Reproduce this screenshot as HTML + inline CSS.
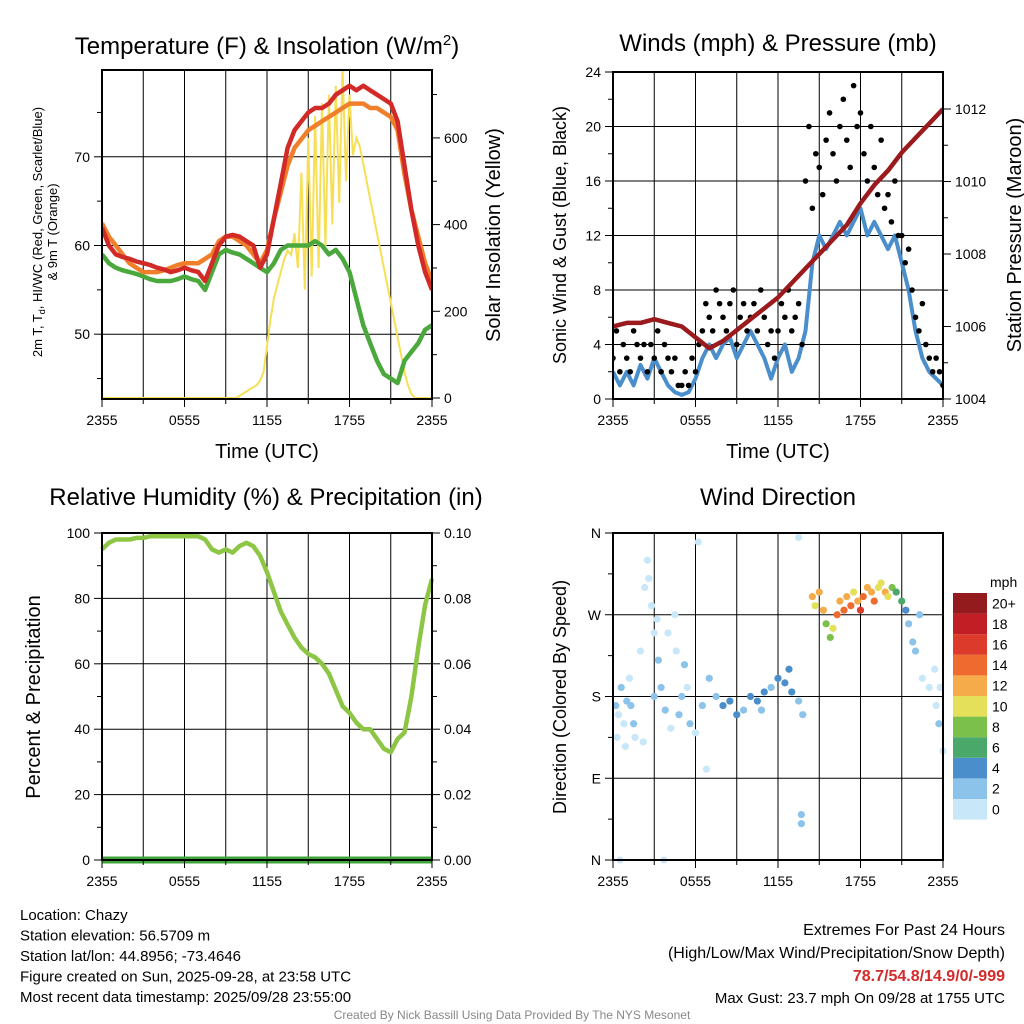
<!DOCTYPE html>
<html><head><meta charset="utf-8"><style>
body{margin:0;background:#fff}
svg{display:block;font-family:"Liberation Sans",sans-serif}
</style></head><body>
<svg id="c" width="1024" height="1024" viewBox="0 0 1024 1024">
<defs>
<clipPath id="clip1"><rect x="102" y="70" width="330" height="329"/></clipPath>
<clipPath id="clip2"><rect x="613" y="72" width="330" height="327"/></clipPath>
</defs>
</svg>
<script>
// ---------- data ----------
const xTickLabels = ["2355","0555","1155","1755","2355"];
// temperatures at half-hour steps (49 values, hours 0..24)
const temp2m = [62,60,59,58.7,58.5,58.2,58,57.8,57.5,57.3,57,57.2,57.5,57.2,57,56,58,60,61,61.2,61,60.5,60,57.5,59,63,67,71,73,74,75,75.5,75.5,76,77,77.5,78,77.5,78,77.5,77,76.5,76,74,69,64,60,57,55];
const temp9m = [62.5,61,60,59,58,57.5,57,57,57,57.2,57.5,57.8,58,58,58,58.5,59,60.5,61,61,60.5,60,59,58,59.5,63,66,69,71,72,73,73.5,74,74.5,75,75.5,76,76,76,75.5,75.5,75,74.5,73,68,64,61,58,56];
const dewpt = [59,58,57.5,57.2,57,56.8,56.5,56.2,56,56,56,56.2,56.5,56.2,56,55,57,59,59.5,59.2,59,58.5,58,57.5,57,58,59.5,60,60,60,60,60.5,60,59,59.5,58.5,57,54,51,49,47,45.5,45,44.5,47,48,49,50.5,51];
// solar at quarter-hour steps (97 values)
const solar = [0,0,0,0,0,0,0,0,0,0,0,0,0,0,0,0,0,0,0,0,0,0,0,0,0,0,0,0,0,0,0,0,0,0,0,0,0,0,0,0,5,10,15,20,25,30,40,60,120,180,230,260,290,320,340,330,380,300,520,250,600,280,650,300,680,350,700,400,720,450,760,500,700,560,600,580,540,500,460,420,380,340,300,260,220,180,140,100,60,30,10,0,0,0,0,0,0];
// winds (half-hour, 49 values) mph
const sonicWind = [2,1,2,1,2.5,1.5,3,2,1,0.5,0.3,0.5,1.5,3,4,3,4,4.5,3,4,5,4,3,1.5,3,4,2,3,5,10,12,11,12,13,12,13,14,12,13,12,11,12,10,8,5,3,2,1.5,1];
// gusts (quarter-hour, 97 values) mph
const gust = [3,5,2,4,3,2,5,4,3,4,2,4,3,5,2,4,3,2,3,1,1,2,1,3,2,4,5,7,6,5,8,7,6,5,7,8,4,6,7,5,6,7,5,8,6,4,5,3,5,7,6,8,5,6,7,4,16,20,14,18,17,15,19,21,18,16,20,22,19,17,23,20,21,18,16,20,17,15,19,14,15,13,16,12,12,10,11,8,6,5,7,4,3,2,3,2,1];
// pressure (hourly, 25 values) mb
const pressure = [1006.0,1006.1,1006.1,1006.2,1006.1,1006.0,1005.7,1005.4,1005.6,1005.9,1006.2,1006.5,1006.8,1007.2,1007.6,1008.0,1008.4,1008.8,1009.4,1009.9,1010.3,1010.8,1011.2,1011.6,1012.0];
// relative humidity (half-hour, 49 values)
const rh = [95,97,98,98,98,98.5,98.5,99,99,99,99,99,99,99,99,98,95,94,95,94,96,97,96,93,88,82,76,72,68,65,63,62,60,57,52,47,45,42,40,40,37,34,33,37,39,50,65,78,86];
const precip = [0,0,0,0,0,0,0,0,0,0,0,0,0,0,0,0,0,0,0,0,0,0,0,0,0];
// wind direction scatter
const dirHours = [0.2,0.4,0.6,0.8,1.0,1.2,1.5,0.5,3.7,2.5,2.6,2.3,3.0,3.3,3.5,3.0,2.0,4.0,4.5,4.8,5.0,5.4,6.2,6.5,7.0,6.8,7.5,8.0,8.5,9.0,9.5,10,10.5,10.8,11,11.5,12,12.5,13,13.5,12.8,13.8,13.7,13.5,13.7,0.3,0.9,1.6,2.2,1.3,3.8,4.2,5.6,6.0,5.2,3.2,2.8,4.6,14.5,14.7,15,15.3,15.5,15.8,16,16.3,16.5,16.8,17,17.3,17.5,17.8,18,18.2,18.5,18.8,19,19.3,19.5,19.8,20,20.3,20.6,21,21.3,21.5,21.8,22,22.5,23,23.5,23.8,23.7,24,23.4,22.3];
const dirDeg = [170,160,190,150,175,200,150,0,0,330,310,300,250,220,190,180,230,250,270,160,180,190,350,170,200,100,180,170,175,160,165,180,175,165,185,190,200,195,185,175,210,160,40,355,50,135,125,135,130,170,165,145,150,140,215,265,280,230,290,280,295,275,260,245,255,270,285,275,290,280,295,285,275,290,300,295,285,300,305,295,290,300,295,285,275,260,240,230,200,190,170,190,150,120,210,270];
const dirSpd = [2,1,3,1,2,1,2,1,0,1,0,1,1,2,2,3,1,1,0,2,2,1,0,2,3,1,3,4,4,4,3,4,4,3,4,3,4,5,4,3,4,2,3,1,2,1,0,1,1,2,2,1,2,0,2,1,1,1,12,10,13,12,9,8,10,14,13,15,12,14,11,13,16,14,12,13,15,11,10,12,10,8,6,7,5,3,2,2,1,1,1,0,2,1,1,2];
const spdLabels = ["0","2","4","6","8","10","12","14","16","18","20+"];
const spdColors = ["#c8e7f8","#8cc3ea","#4a8fcb","#4aa86a","#7cc04c","#e4e05a","#f6ab4a","#ef6a2e","#dc3a2a","#c11e25","#931b1e"];

// ---------- helpers ----------
const svg = document.getElementById('c');
const NS = 'http://www.w3.org/2000/svg';
function mk(tag, attrs, parent){
  const e = document.createElementNS(NS, tag);
  for (const k in attrs) e.setAttribute(k, attrs[k]);
  (parent||svg).appendChild(e);
  return e;
}
function txt(s, x, y, size, anchor, parent, extra){
  const t = mk('text', Object.assign({x:x, y:y, 'font-size':size, 'text-anchor':anchor||'middle', fill:'#000'}, extra||{}), parent);
  t.textContent = s;
  return t;
}
function linPath(vals, step, sx, sy){
  let d = '';
  vals.forEach((v,i)=>{ d += (i?'L':'M') + sx(i*step).toFixed(1) + ',' + sy(v).toFixed(1); });
  return d;
}
function frame(x0,y0,x1,y1,name,hgrid){
  const g = mk('g',{});
  
  
  for (let i=1;i<8;i++){
    const x = x0 + (x1-x0)*i/8;
    mk('line',{x1:x,y1:y0,x2:x,y2:y1,stroke:'#000','stroke-width':1},g);
  }
  (hgrid||[]).forEach(y=>mk('line',{x1:x0,y1:y,x2:x1,y2:y,stroke:'#000','stroke-width':1},g));
  return g;
}
function border(x0,y0,x1,y1){
  mk('rect',{x:x0,y:y0,width:x1-x0,height:y1-y0,fill:'none',stroke:'#000','stroke-width':2});
}
function xAxis(x0,x1,y,name){
  const g = mk('g',{});
  
  
  for (let i=0;i<=8;i++){
    const x = x0+(x1-x0)*i/8;
    mk('line',{x1:x,y1:y,x2:x,y2:y+(i%2==0?8:5),stroke:'#000'},g);
  }
  xTickLabels.forEach((s,i)=>txt(s, x0+(x1-x0)*i/4, y+26, 14,'middle',g));
}
function yTicks(ticks, labels, sy, x, side, g, minor){
  ticks.forEach((v,i)=>{
    const y = sy(v);
    mk('line',{x1:x,y1:y,x2:x+(side<0?-8:8),y2:y,stroke:'#000'},g);
    txt(labels[i], x+(side<0?-12:12), y+5, 14, side<0?'end':'start', g);
  });
  (minor||[]).forEach(v=>{ const y=sy(v); mk('line',{x1:x,y1:y,x2:x+(side<0?-5:5),y2:y,stroke:'#000'},g); });
}
function rotText(s,x,y,size,parent){
  return txt(s,0,0,size,'middle',parent,{transform:`translate(${x},${y}) rotate(-90)`});
}

// ---------- panel 1 ----------
(function(){
  const X0=102,X1=432,Y0=70,Y1=399;
  const sx = h => X0 + (X1-X0)*h/24;
  const sy = v => 245.5 - (v-60)*8.87;
  const sr = v => Y1 - 1 - v*0.4335;
  frame(X0,Y0,X1,Y1,'temperature-grid',[sy(50),sy(60),sy(70)]);
  const cg = mk('g',{'clip-path':'url(#clip1)'});
   
  const l1 = mk('path',{d:linPath(solar,0.25,sx,sr),fill:'none',stroke:'#f7df55','stroke-width':2},cg);
   
  const l2 = mk('path',{d:linPath(dewpt,0.5,sx,sy),fill:'none',stroke:'#4aa83c','stroke-width':4.5,'stroke-linejoin':'round'},cg);
   
  const l3 = mk('path',{d:linPath(temp9m,0.5,sx,sy),fill:'none',stroke:'#f07f2c','stroke-width':4.5,'stroke-linejoin':'round'},cg);
   
  const l4 = mk('path',{d:linPath(temp2m,0.5,sx,sy),fill:'none',stroke:'#d22a26','stroke-width':4.5,'stroke-linejoin':'round'},cg);
   
  border(X0,Y0,X1,Y1);
  xAxis(X0,X1,Y1,'temperature-x-axis');
  const gl = mk('g',{});  
  yTicks([50,60,70],['50','60','70'],sy,X0,-1,gl,[45,55,65,75]);
  const gr = mk('g',{});  
  yTicks([0,200,400,600],['0','200','400','600'],sr,X1,1,gr,[100,300,500,700]);
  const t = txt('',267,54,24,'middle'); t.innerHTML='Temperature (F) &amp; Insolation (W/m<tspan dy="-9" font-size="15">2</tspan><tspan dy="9">)</tspan>';
   
  txt('Time (UTC)',267,458,20,'middle');
  const a = txt('',0,0,13,'middle',null,{transform:'translate(42,232) rotate(-90)'});
  a.innerHTML='2m T, T<tspan dy="3" font-size="9">d</tspan><tspan dy="-3">, HI/WC (Red, Green, Scarlet/Blue)</tspan>';
  rotText('& 9m T (Orange)',57,232,13);
  rotText('Solar Insolation (Yellow)',500,235,20);
})();

// ---------- panel 2 ----------
(function(){
  const X0=613,X1=943,Y0=72,Y1=399;
  const sx = h => X0 + (X1-X0)*h/24;
  const sy = v => Y1 - v*(Y1-Y0)/24;
  const sp = v => Y1 - (v-1004)*36.25;
  frame(X0,Y0,X1,Y1,'winds-grid',[4,8,12,16,20].map(sy));
  const cg = mk('g',{'clip-path':'url(#clip2)'});
   
  const w = mk('path',{d:linPath(sonicWind,0.5,sx,sy),fill:'none',stroke:'#4a8fcb','stroke-width':4,'stroke-linejoin':'round'},cg);
   
  const gg = mk('g',{},cg);  
  gust.forEach((v,i)=>{
    const c = mk('circle',{cx:sx(i*0.25),cy:sy(v),r:2.8,fill:'#000'},gg);
    
    
  });
  const p = mk('path',{d:linPath(pressure,1,sx,sp),fill:'none',stroke:'#9b1a1d','stroke-width':4.5,'stroke-linejoin':'round'},cg);
   
  border(X0,Y0,X1,Y1);
  xAxis(X0,X1,Y1,'winds-x-axis');
  const gl = mk('g',{});  
  yTicks([0,4,8,12,16,20,24],['0','4','8','12','16','20','24'],sy,X0,-1,gl,[2,6,10,14,18,22]);
  const gr = mk('g',{});  
  yTicks([1004,1006,1008,1010,1012],['1004','1006','1008','1010','1012'],sp,X1,1,gr,[1005,1007,1009,1011]);
  txt('Winds (mph) & Pressure (mb)',778,51,24,'middle');
  txt('Time (UTC)',778,458,20,'middle');
  rotText('Sonic Wind & Gust (Blue, Black)',566,235,18);
  rotText('Station Pressure (Maroon)',1021,235,20);
})();

// ---------- panel 3 ----------
(function(){
  const X0=102,X1=432,Y0=533,Y1=860;
  const sx = h => X0 + (X1-X0)*h/24;
  const sy = v => Y1 - v*(Y1-Y0)/100;
  const sq = v => Y1 - v*(Y1-Y0)/0.1;
  frame(X0,Y0,X1,Y1,'humidity-grid',[20,40,60,80].map(sy));
  const pr = mk('path',{d:linPath(precip,1,sx,sq),fill:'none',stroke:'#3fa43c','stroke-width':7});
   
  const r = mk('path',{d:linPath(rh,0.5,sx,sy),fill:'none',stroke:'#8cc644','stroke-width':4.5,'stroke-linejoin':'round'});
   
  border(X0,Y0,X1,Y1);
  xAxis(X0,X1,Y1,'humidity-x-axis');
  const gl = mk('g',{});  
  yTicks([0,20,40,60,80,100],['0','20','40','60','80','100'],sy,X0,-1,gl,[10,30,50,70,90]);
  const gr = mk('g',{});  
  yTicks([0,0.02,0.04,0.06,0.08,0.1],['0.00','0.02','0.04','0.06','0.08','0.10'],sq,X1,1,gr,[0.01,0.03,0.05,0.07,0.09]);
  txt('Relative Humidity (%) & Precipitation (in)',266,505,24,'middle');
  rotText('Percent & Precipitation',40,697,20);
})();

// ---------- panel 4 ----------
(function(){
  const X0=613,X1=943,Y0=533,Y1=860;
  const sx = h => X0 + (X1-X0)*h/24;
  const sy = d => Y1 - d*(Y1-Y0)/360;
  frame(X0,Y0,X1,Y1,'direction-grid',[90,180,270].map(sy));
  const gd = mk('g',{});  
  dirHours.forEach((h,i)=>{
    const bin = Math.min(10, Math.floor(dirSpd[i]/2));
    const c = mk('circle',{cx:sx(h),cy:sy(dirDeg[i]),r:3.6,fill:spdColors[bin]},gd);
    
    
  });
  border(X0,Y0,X1,Y1);
  xAxis(X0,X1,Y1,'direction-x-axis');
  const gl = mk('g',{});  
  yTicks([0,90,180,270,360],['N','E','S','W','N'],sy,X0,-1,gl,[45,135,225,315]);
  txt('Wind Direction',778,505,24,'middle');
  rotText('Direction (Colored By Speed)',566,697,18);
  const cb = mk('g',{});  
  const bh = 20.6, top = 593;
  spdColors.forEach((col,i)=>{
    const y = top + (10-i)*bh;
    mk('rect',{x:953,y:y,width:34,height:bh,fill:col},cb);
    txt(spdLabels[i],992,y+bh/2+5,14,'start',cb);
  });
  txt('mph',990,587,14,'start',cb);
})();

// ---------- footer ----------
(function(){
  const g = mk('g',{});  
  ['Location: Chazy','Station elevation: 56.5709 m','Station lat/lon: 44.8956; -73.4646','Figure created on Sun, 2025-09-28, at 23:58 UTC','Most recent data timestamp: 2025/09/28 23:55:00']
    .forEach((s,i)=>txt(s,20,920+i*20.5,15,'start',g));
  const e = mk('g',{});  
  txt('Extremes For Past 24 Hours',1005,935,16,'end',e);
  txt('(High/Low/Max Wind/Precipitation/Snow Depth)',1005,958,16,'end',e);
  txt('78.7/54.8/14.9/0/-999',1005,981,16,'end',e,{fill:'#d32a2a','font-weight':'bold'});
  txt('Max Gust: 23.7 mph On 09/28 at 1755 UTC',1005,1003,15,'end',e);
  txt('Created By Nick Bassill Using Data Provided By The NYS Mesonet',512,1019,12,'middle',null,{fill:'#888'});
})();
</script>
</body></html>
